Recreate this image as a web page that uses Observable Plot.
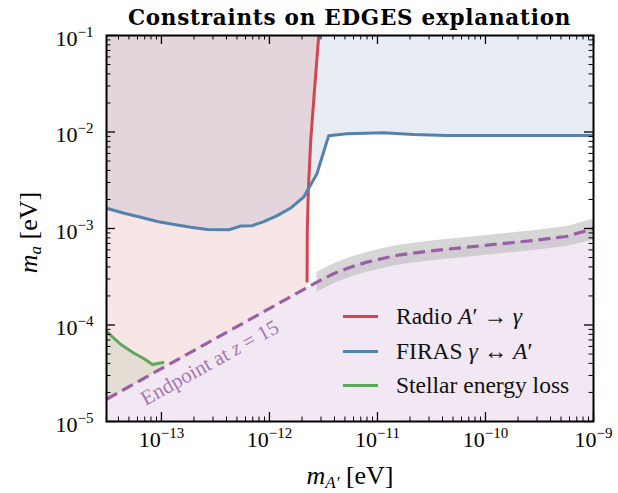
<!DOCTYPE html>
<html><head><meta charset="utf-8">
<script src="https://cdn.jsdelivr.net/npm/d3@7"></script>
<script src="https://cdn.jsdelivr.net/npm/@observablehq/plot@0.6"></script>
<style>
body{margin:0;background:#fff;}
#wrap{position:relative;width:618px;height:493px;overflow:hidden;}
#title{position:absolute;left:106px;width:487px;top:7px;line-height:22px;text-align:center;font-family:"DejaVu Serif",serif;font-weight:bold;font-size:21.5px;letter-spacing:0.75px;color:#000;white-space:nowrap;}
#legend{position:absolute;left:343px;top:299.5px;font-family:"Liberation Serif",serif;font-size:23.5px;color:#111;}
.row{display:flex;align-items:center;height:34.5px;white-space:nowrap;}
.sw{width:35px;height:3px;margin-right:18px;}
i{font-style:italic;}
</style></head><body>
<div id="wrap"><div id="title">Constraints on EDGES explanation</div><div id="legend"></div></div>
<script>
// ---- data ----
const xDomain = [3.1e-14, 1e-9];
const yDomain = [1e-5, 1e-1];
const xMajor = [1e-13, 1e-12, 1e-11, 1e-10, 1e-9];
const yMajor = [1e-5, 1e-4, 1e-3, 1e-2, 1e-1];
const xMinorDecades = [1e-14, 1e-13, 1e-12, 1e-11, 1e-10];
const yMinorDecades = [1e-5, 1e-4, 1e-3, 1e-2];
const minorMultipliers = [2, 3, 4, 5, 6, 7, 8, 9];

// Radio A' -> gamma (red)
const radioX = [2.23e-12, 2.24e-12, 2.29e-12, 2.41e-12, 2.61e-12, 2.86e-12];
const radioY = [2.75e-4, 9.5e-4, 2.48e-3, 8.17e-3, 2.69e-2, 1e-1];

// FIRAS gamma <-> A' (blue)
const firasX = [3.1e-14, 4.52e-14, 6.44e-14, 9.18e-14, 1.31e-13, 1.87e-13, 2.66e-13, 4.21e-13, 5.40e-13, 6.92e-13, 8.85e-13, 1.18e-12, 1.56e-12, 2.07e-12, 2.75e-12, 3.53e-12, 5.22e-12, 1.14e-11, 2.15e-11, 4.37e-11, 1.80e-10, 1e-9];
const firasY = [1.62e-3, 1.44e-3, 1.31e-3, 1.18e-3, 1.10e-3, 1.03e-3, 9.77e-4, 9.70e-4, 1.06e-3, 1.07e-3, 1.18e-3, 1.36e-3, 1.62e-3, 2.11e-3, 3.69e-3, 9.12e-3, 9.57e-3, 9.81e-3, 9.42e-3, 9.20e-3, 9.20e-3, 9.20e-3];

// Stellar energy loss (green)
const stellarX = [3.1e-14, 4.21e-14, 5.58e-14, 6.91e-14, 8.26e-14, 1.06e-13];
const stellarY = [8.6e-5, 6.28e-5, 5.10e-5, 4.47e-5, 3.90e-5, 4.12e-5];

// Endpoint at z = 15 (purple dashed)
const endX = [3.1e-14, 1.06e-13, 2.23e-12, 2.75e-12, 3.92e-12, 5.6e-12, 8.0e-12, 1.14e-11, 1.62e-11, 3.3e-11, 6.7e-11, 1.36e-10, 2.75e-10, 5.6e-10, 1e-9];
const endY = [1.70e-5, 3.66e-5, 2.44e-4, 2.78e-4, 3.40e-4, 3.97e-4, 4.48e-4, 4.92e-4, 5.34e-4, 5.91e-4, 6.40e-4, 6.93e-4, 7.51e-4, 8.26e-4, 1.0e-3];

// grey uncertainty band around the endpoint
const bandX = [2.75e-12, 3.92e-12, 5.6e-12, 8.0e-12, 1.14e-11, 1.62e-11, 3.3e-11, 6.7e-11, 1.36e-10, 2.75e-10, 5.6e-10, 1e-9];
const bandLo = [2.19e-4, 2.68e-4, 3.13e-4, 3.53e-4, 3.87e-4, 4.20e-4, 4.65e-4, 5.04e-4, 5.46e-4, 5.91e-4, 6.50e-4, 7.6e-4];
const bandHi = [3.50e-4, 4.28e-4, 5.00e-4, 5.64e-4, 6.20e-4, 6.73e-4, 7.45e-4, 8.06e-4, 8.73e-4, 9.46e-4, 1.04e-3, 1.25e-3];

const endpointLabel = [{x: 2.8e-13, y: 6.7e-5, text: "Endpoint at z = 15"}];
const legendItems = [
  {key: "radio", html: "Radio <i>A</i>′ → <i>γ</i>"},
  {key: "firas", html: "FIRAS <i>γ</i> ↔ <i>A</i>′"},
  {key: "stellar", html: "Stellar energy loss"}
];

const COLORS = {radio: "#d0484e", firas: "#5282ad", stellar: "#5fa85b", endpoint: "#9a5fa7"};

// ---- build tables ----
const zip = (xs, ys) => xs.map((x, i) => ({x, y: ys[i]}));
const radio = zip(radioX, radioY);
const firas = zip(firasX, firasY);
const stellar = zip(stellarX, stellarY);
const endpoint = zip(endX, endY);
const band = bandX.map((x, i) => ({x, lo: bandLo[i], hi: bandHi[i]}));
const pinkPoly = endpoint.filter(d => d.x <= radioX[0]).concat(radio, [{x: xDomain[0], y: yDomain[1]}]);
const greenPoly = stellar.concat(endpoint.filter(d => d.x <= stellarX[stellarX.length - 1]).reverse());
const xMinor = xMinorDecades.flatMap(d => minorMultipliers.map(m => d * m)).filter(v => v > xDomain[0] && v < xDomain[1]);
const yMinor = yMinorDecades.flatMap(d => minorMultipliers.map(m => d * m));

const W = 618, H = 493, mL = 106, mR = 25, mT = 35, mB = 72;
const iW = W - mL - mR, iH = H - mT - mB;
const majL = 9, minL = 4.5;
const sup = d => "10^" + Math.round(Math.log10(d));

const chart = Plot.plot({
  width: W, height: H,
  marginLeft: mL, marginRight: mR, marginTop: mT, marginBottom: mB,
  x: {type: "log", domain: xDomain, axis: null},
  y: {type: "log", domain: yDomain, axis: null},
  style: {fontFamily: '"Liberation Serif", serif', fontSize: "22px", color: "black", background: "white"},
  marks: [
    Plot.areaY(firas, {x: "x", y1: "y", y2: yDomain[1], fill: COLORS.firas, fillOpacity: 0.14}),
    Plot.line(pinkPoly, {x: "x", y: "y", fill: COLORS.radio, fillOpacity: 0.14, stroke: "none"}),
    Plot.line(greenPoly, {x: "x", y: "y", fill: COLORS.stellar, fillOpacity: 0.13, stroke: "none"}),
    Plot.areaY(endpoint, {x: "x", y1: yDomain[0], y2: "y", fill: COLORS.endpoint, fillOpacity: 0.14}),
    Plot.areaY(band, {x: "x", y1: "lo", y2: "hi", fill: "#b4b4b4", fillOpacity: 0.55}),
    Plot.line(radio, {x: "x", y: "y", stroke: COLORS.radio, strokeWidth: 3, strokeLinecap: "butt"}),
    Plot.line(firas, {x: "x", y: "y", stroke: COLORS.firas, strokeWidth: 3, strokeLinecap: "butt"}),
    Plot.line(stellar, {x: "x", y: "y", stroke: COLORS.stellar, strokeWidth: 3, strokeLinecap: "butt"}),
    Plot.line(endpoint, {x: "x", y: "y", stroke: COLORS.endpoint, strokeWidth: 3.2, strokeDasharray: "12,6", strokeLinecap: "butt"}),
    Plot.text(endpointLabel, {x: "x", y: "y", text: "text", rotate: -29, dy: 21, fill: COLORS.endpoint, fillOpacity: 0.85, fontSize: 21}),
    // ticks (inward, all four sides)
    Plot.tickX(xMajor, {x: d => d, insetTop: iH - majL, stroke: "black", strokeWidth: 1.3}),
    Plot.tickX(xMajor, {x: d => d, insetBottom: iH - majL, stroke: "black", strokeWidth: 1.3}),
    Plot.tickX(xMinor, {x: d => d, insetTop: iH - minL, stroke: "black", strokeWidth: 1}),
    Plot.tickX(xMinor, {x: d => d, insetBottom: iH - minL, stroke: "black", strokeWidth: 1}),
    Plot.tickY(yMajor, {y: d => d, insetRight: iW - majL, stroke: "black", strokeWidth: 1.3}),
    Plot.tickY(yMajor, {y: d => d, insetLeft: iW - majL, stroke: "black", strokeWidth: 1.3}),
    Plot.tickY(yMinor, {y: d => d, insetRight: iW - minL, stroke: "black", strokeWidth: 1}),
    Plot.tickY(yMinor, {y: d => d, insetLeft: iW - minL, stroke: "black", strokeWidth: 1}),
    Plot.frame({stroke: "black", strokeWidth: 2}),
    Plot.axisX({ticks: xMajor, tickSize: 0, tickPadding: 10, tickFormat: sup, label: null}),
    Plot.axisY({ticks: yMajor, tickSize: 0, tickPadding: 13, tickFormat: sup, label: null, dy: 3}),
    Plot.text(["@xlabel"], {frameAnchor: "bottom", text: d => d, textAnchor: "middle", lineAnchor: "bottom", dy: 62, fontSize: 26}),
    Plot.text(["@ylabel"], {frameAnchor: "left", text: d => d, textAnchor: "middle", lineAnchor: "middle", rotate: -90, dx: -78, dy: 4, fontSize: 26})
  ]
});

// superscript tick labels
const svg = d3.select(chart);
svg.selectAll('g[aria-label="x-axis tick label"] text, g[aria-label="y-axis tick label"] text').each(function() {
  const [base, exp] = d3.select(this).text().split("^");
  const t = d3.select(this).text(null);
  t.append("tspan").text(base);
  t.append("tspan").attr("dy", "-9px").attr("font-size", "15px").text(exp.replace("-", "−"));
});
// math markup in text labels
svg.selectAll("text").each(function() {
  const s = this.textContent;
  const t = d3.select(this);
  if (s === "@xlabel" || s === "@ylabel") {
    t.text(null);
    t.append("tspan").attr("font-style", "italic").text("m");
    t.append("tspan").attr("font-style", "italic").attr("font-size", "17px").attr("dy", "4px")
      .text(s === "@xlabel" ? "A′" : "a");
    t.append("tspan").attr("dy", "-4px").text(" [eV]");
  } else if (s === "Endpoint at z = 15") {
    t.text(null);
    t.append("tspan").text("Endpoint at ");
    t.append("tspan").attr("font-style", "italic").text("z");
    t.append("tspan").text(" = 15");
  }
});

document.getElementById("wrap").prepend(chart);
chart.style.position = "absolute";
chart.style.left = "0px";
chart.style.top = "0px";

const legend = d3.select("#legend");
for (const item of legendItems) {
  const row = legend.append("div").attr("class", "row");
  row.append("div").attr("class", "sw").style("background", COLORS[item.key]);
  row.append("div").html(item.html);
}
</script></body></html>
